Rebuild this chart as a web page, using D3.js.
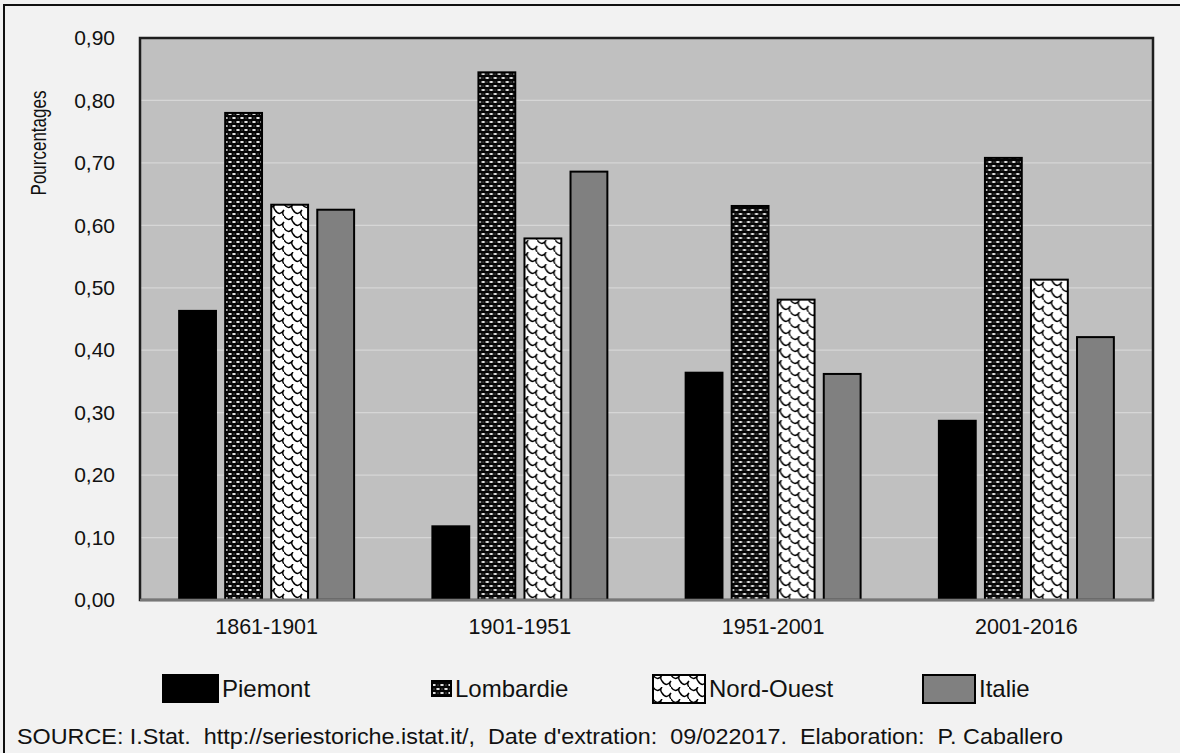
<!DOCTYPE html>
<html>
<head>
<meta charset="utf-8">
<script src="https://cdn.jsdelivr.net/npm/d3@7/dist/d3.min.js"></script>
<style>
  html, body { margin: 0; padding: 0; background: #f2f2f2; }
  svg { display: block; }
  text { font-family: "Liberation Sans", Arial, sans-serif; fill: #111; }
</style>
</head>
<body>
<svg id="chart" width="1180" height="753"></svg>
<script>
// ---- data ----
const categories = ["1861-1901", "1901-1951", "1951-2001", "2001-2016"];
const seriesNames = ["Piemont", "Lombardie", "Nord-Ouest", "Italie"];
const piemont   = [0.463, 0.118, 0.364, 0.287];
const lombardie = [0.780, 0.845, 0.631, 0.708];
const nordOuest = [0.633, 0.579, 0.481, 0.513];
const italie    = [0.625, 0.686, 0.362, 0.421];
const yTicks = [0, 0.1, 0.2, 0.3, 0.4, 0.5, 0.6, 0.7, 0.8, 0.9];
const yTitle = "Pourcentages";
const sourceText = "SOURCE: I.Stat.  http://seriestoriche.istat.it/,  Date d'extration:  09/022017.  Elaboration:  P. Caballero";

const seriesValues = [piemont, lombardie, nordOuest, italie];

// ---- layout ----
const W = 1180, H = 753;
const plot = { left: 140, right: 1153, top: 38, bottom: 600 };
const svg = d3.select("#chart");

// patterns
const defs = svg.append("defs");
const pLomb = defs.append("pattern").attr("id", "pLomb")
  .attr("patternUnits", "userSpaceOnUse").attr("width", 8).attr("height", 8);
pLomb.append("rect").attr("width", 8).attr("height", 8).attr("fill", "#050505");
pLomb.append("ellipse").attr("cx", 2).attr("cy", 2).attr("rx", 1.9).attr("ry", 1.1).attr("fill", "#f4f4f4");
pLomb.append("ellipse").attr("cx", 6).attr("cy", 6).attr("rx", 1.9).attr("ry", 1.1).attr("fill", "#f4f4f4");
pLomb.append("ellipse").attr("cx", 6).attr("cy", 2).attr("rx", 0.8).attr("ry", 0.5).attr("fill", "#777");
pLomb.append("ellipse").attr("cx", 2).attr("cy", 6).attr("rx", 0.8).attr("ry", 0.5).attr("fill", "#777");

const pNO = defs.append("pattern").attr("id", "pNO")
  .attr("patternUnits", "userSpaceOnUse").attr("width", 18).attr("height", 12);
pNO.append("rect").attr("width", 18).attr("height", 12).attr("fill", "#fff");
pNO.append("path")
  .attr("d", "M0,0 Q4.5,7 9,0 M9,6 Q13.5,13 18,6 M9,0 Q6.5,3 9,6 M0,6 Q-2.5,9 0,12 M18,6 Q15.5,9 18,12 M-9,6 Q-4.5,13 0,6")
  .attr("fill", "none").attr("stroke", "#000").attr("stroke-width", 1.4);

const fills = ["#000000", "url(#pLomb)", "url(#pNO)", "#808080"];

// background frame
svg.append("rect").attr("width", W).attr("height", H).attr("fill", "#f2f2f2");
svg.append("line").attr("x1", 3).attr("x2", W).attr("y1", 5).attr("y2", 5)
  .attr("stroke", "#111").attr("stroke-width", 2);
svg.append("line").attr("x1", 4).attr("x2", 4).attr("y1", 5).attr("y2", H)
  .attr("stroke", "#111").attr("stroke-width", 2);

// scales
const x0 = d3.scaleBand().domain(categories).range([plot.left, plot.right]).padding(0);
const x1 = d3.scaleBand().domain(seriesNames).range([0, x0.bandwidth()])
  .paddingInner(0.2).paddingOuter(0.85);
const y = d3.scaleLinear().domain([0, 0.9]).range([plot.bottom, plot.top]);

// plot area
svg.append("rect")
  .attr("x", plot.left).attr("y", plot.top)
  .attr("width", plot.right - plot.left).attr("height", plot.bottom - plot.top)
  .attr("fill", "#c0c0c0");

// gridlines
svg.append("g").selectAll("line").data(yTicks.filter(t => t > 0 && t < 0.9)).join("line")
  .attr("x1", plot.left).attr("x2", plot.right)
  .attr("y1", d => y(d)).attr("y2", d => y(d))
  .attr("stroke", "#d6d6d6").attr("stroke-width", 1.2);

// bars
const groups = svg.append("g").selectAll("g").data(categories).join("g")
  .attr("transform", d => `translate(${x0(d)},0)`);
groups.selectAll("rect")
  .data((c, ci) => seriesNames.map((s, si) => ({ s, si, v: seriesValues[si][ci] })))
  .join("rect")
  .attr("x", d => x1(d.s))
  .attr("width", x1.bandwidth())
  .attr("y", d => y(d.v))
  .attr("height", d => y(0) - y(d.v))
  .attr("fill", d => fills[d.si])
  .attr("stroke", "#000").attr("stroke-width", 2);

// plot border
svg.append("rect")
  .attr("x", plot.left).attr("y", plot.top)
  .attr("width", plot.right - plot.left).attr("height", plot.bottom - plot.top)
  .attr("fill", "none").attr("stroke", "#1e1e1e").attr("stroke-width", 2.5);
svg.append("line").attr("x1", plot.left).attr("x2", plot.right + 1)
  .attr("y1", plot.bottom).attr("y2", plot.bottom)
  .attr("stroke", "#777").attr("stroke-width", 2.5);

// y axis labels
const fmt = d => d3.format(".2f")(d).replace(".", ",");
const yAxis = d3.axisLeft(y).tickValues(yTicks).tickFormat(fmt).tickSize(0).tickPadding(0);
const gy = svg.append("g").attr("transform", `translate(115,0)`).call(yAxis);
gy.select(".domain").remove();
gy.selectAll("text").attr("font-size", 21).attr("fill", "#111")
  .attr("font-family", "Liberation Sans, Arial, sans-serif");

svg.append("text")
  .attr("transform", `translate(46,143) rotate(-90) scale(1,1.35)`)
  .attr("text-anchor", "middle")
  .attr("font-size", 17)
  .text(yTitle);

// x axis labels
const xAxis = d3.axisBottom(x0).tickSize(0).tickPadding(0);
const gx = svg.append("g").attr("transform", `translate(0,619)`).call(xAxis);
gx.select(".domain").remove();
gx.selectAll("text").attr("font-size", 21.5).attr("fill", "#111")
  .attr("font-family", "Liberation Sans, Arial, sans-serif");

// legend
const legendX = [163, 432, 653, 923];
const swatch = [
  { w: 55, h: 27, dy: 0 },
  { w: 19, h: 15, dy: 6 },
  { w: 52, h: 28, dy: 0 },
  { w: 52, h: 28, dy: 0 }
];
const legend = svg.append("g").selectAll("g").data(seriesNames).join("g")
  .attr("transform", (d, i) => `translate(${legendX[i]},675)`);
legend.append("rect")
  .attr("y", (d, i) => swatch[i].dy)
  .attr("width", (d, i) => swatch[i].w)
  .attr("height", (d, i) => swatch[i].h)
  .attr("fill", (d, i) => fills[i])
  .attr("stroke", "#000").attr("stroke-width", 2);
legend.append("text")
  .attr("x", (d, i) => swatch[i].w + 4)
  .attr("y", 22)
  .attr("font-size", 24)
  .text(d => d);

// source
svg.append("text")
  .attr("x", 17).attr("y", 744)
  .attr("font-size", 22)
  .style("white-space", "pre")
  .attr("xml:space", "preserve")
  .attr("textLength", 1046).attr("lengthAdjust", "spacingAndGlyphs")
  .text(sourceText);
</script>
</body>
</html>
